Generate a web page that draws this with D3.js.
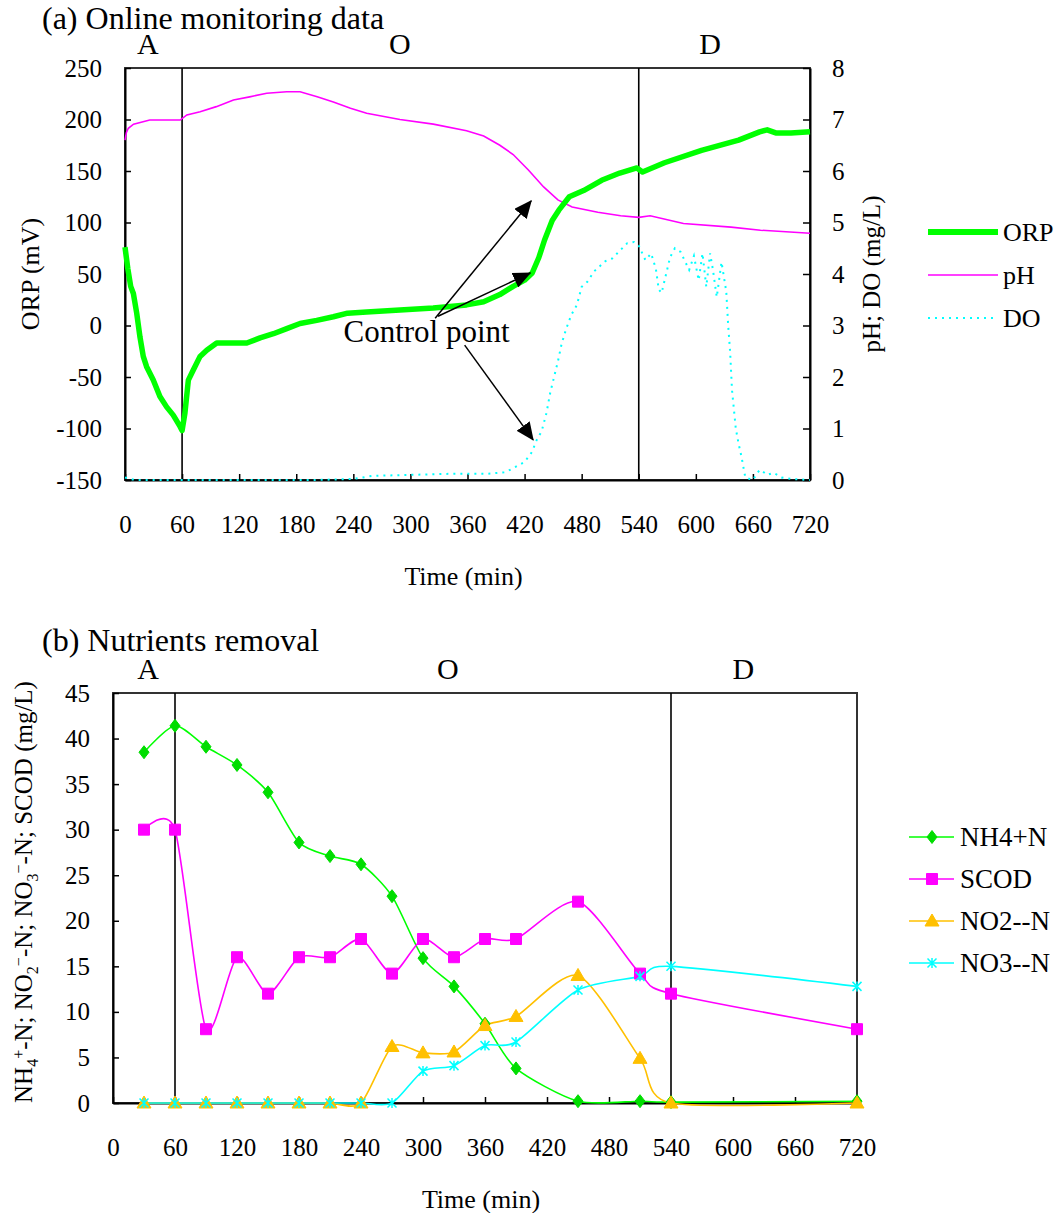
<!DOCTYPE html>
<html>
<head>
<meta charset="utf-8">
<script src="https://cdn.jsdelivr.net/npm/d3@7"></script>
<style>
  body { margin: 0; background: #fff; }
  text { font-family: "Liberation Serif", "Times New Roman", serif; fill: #000; }
</style>
</head>
<body>
<svg id="chart" width="1058" height="1213"></svg>
<script>
// ---- data ----
const timeTicks = [0, 60, 120, 180, 240, 300, 360, 420, 480, 540, 600, 660, 720]
const orpTicks = [-150, -100, -50, 0, 50, 100, 150, 200, 250]
const phDoTicks = [0, 1, 2, 3, 4, 5, 6, 7, 8]
const nutrientTicks = [0, 5, 10, 15, 20, 25, 30, 35, 40, 45]
const phaseBounds = [60, 540]
const phaseNames = ['A', 'O', 'D']

// [time (min), ORP (mV)]
const orp = [[0, 76], [3, 55], [6, 38], [8.8, 31], [12.3, 12], [15.7, -11], [19.2, -30], [22.7, -40],
  [29.7, -53], [36.7, -69], [43.7, -79], [50.7, -87], [57.8, -98], [60, -102], [63, -85],
  [66.6, -53], [71.9, -43], [78.9, -30], [85.9, -24], [96.4, -17], [113.9, -17], [128, -17],
  [142, -12], [156, -8], [170, -3], [184, 2], [201.5, 5], [219, 8.5], [234, 12], [254, 13],
  [289, 15], [324, 17], [359, 20], [377, 23], [394, 30], [408, 38], [420, 44], [428, 51],
  [435, 66], [441, 83], [449, 102], [456, 112], [467, 125], [482, 131], [501, 141], [520, 148],
  [538, 153], [544, 149], [567, 158], [606, 170], [645, 180], [667, 188], [675, 190],
  [684, 187], [700, 187], [720, 188]]

// [time (min), pH]
const ph = [[0, 6.6], [1.5, 6.75], [3.5, 6.83], [9, 6.91], [26, 6.99], [58, 6.99], [65, 7.09],
  [79, 7.15], [96, 7.25], [114, 7.38], [131, 7.44], [149, 7.51], [170, 7.54], [184, 7.54],
  [202, 7.44], [219, 7.34], [237, 7.22], [254, 7.12], [289, 7.0], [324, 6.91], [359, 6.78],
  [377, 6.68], [394, 6.5], [408, 6.32], [424, 6.02], [440, 5.69], [455, 5.44], [470, 5.3],
  [497, 5.2], [521, 5.13], [540, 5.1], [552, 5.13], [587, 4.98], [637, 4.91], [668, 4.85],
  [720, 4.79]]

// [time (min), DO (mg/L)]
const dissolvedO2 = [[0, 0.05], [10, 0], [120, 0], [200, 0], [240, 0.02], [260, 0.08], [300, 0.1],
  [340, 0.12], [380, 0.12], [400, 0.15], [410, 0.25], [420, 0.35], [428, 0.55], [432, 0.75],
  [438, 0.95], [443, 1.3], [447, 1.7], [451, 2.0], [455, 2.3], [459, 2.65], [464, 2.95],
  [469, 3.2], [475, 3.4], [480, 3.75], [486, 3.85], [493, 4.05], [505, 4.25], [512, 4.3],
  [528, 4.6], [535, 4.62], [540, 4.55], [547, 4.27], [553, 4.4], [558, 4.1], [561, 3.7],
  [564, 3.63], [568, 3.94], [573, 4.33], [578, 4.5], [584, 4.43], [588, 4.27], [593, 4.08],
  [598, 4.35], [603, 3.88], [607, 4.4], [611, 3.75], [615, 4.4], [618, 4.08], [622, 3.55],
  [627, 4.23], [632, 3.66], [634, 3.0], [636, 2.5], [638, 1.75], [642, 1.0], [645, 0.7],
  [648, 0.45], [652, 0.05], [660, 0.0], [665, 0.15], [668, 0.2], [675, 0.1], [682, 0.14],
  [690, 0.05], [700, 0.02], [720, 0]]

// nutrient sampling
const sampleTime = [30, 60, 90, 120, 150, 180, 210, 240, 270, 300, 330, 360, 390, 450, 510, 540, 720]
const nh4 = [38.5, 41.4, 39.1, 37.1, 34.1, 28.6, 27.1, 26.2, 22.7, 15.9, 12.8, 8.7, 3.8, 0.2, 0.2, 0.1, 0.2]
const scod = [30.0, 30.0, 8.1, 16.0, 12.0, 16.0, 16.0, 18.0, 14.2, 18.0, 16.0, 18.0, 18.0, 22.1, 14.2, 12.0, 8.1]
const no2 = [0, 0, 0, 0, 0, 0, 0, 0, 6.2, 5.5, 5.6, 8.5, 9.5, 14.0, 4.9, 0, 0]
const no3 = [0, 0, 0, 0, 0, 0, 0, 0, 0, 3.5, 4.1, 6.3, 6.7, 12.4, 13.9, 15.0, 12.8]

// ---- layout ----
const svg = d3.select('#chart')
const FONT = '"Liberation Serif", "Times New Roman", serif'

const xA = d3.scaleLinear([0, 720], [125, 810])
const yOrp = d3.scaleLinear([-150, 250], [480, 68])
const yPh = d3.scaleLinear([0, 8], [480, 68])

const xB = d3.scaleLinear([0, 720], [113, 857])
const yN = d3.scaleLinear([0, 45], [1103, 693])

function styleAxis (g) {
  g.attr('font-family', FONT).attr('font-size', 25)
  g.select('.domain').attr('stroke', '#000').attr('stroke-width', 2)
  g.selectAll('.tick line').attr('stroke', '#000').attr('stroke-width', 1.5)
  g.selectAll('.tick text').attr('fill', '#000')
}

function frame (x, y, topLabels) {
  const [x0, x1] = x.range()
  const [y0, y1] = y.range()
  svg.append('rect')
    .attr('x', x0).attr('y', y1).attr('width', x1 - x0).attr('height', y0 - y1)
    .attr('fill', 'none').attr('stroke', '#333').attr('stroke-width', 2)

  // phase boundaries
  svg.append('g').selectAll('line').data(phaseBounds).join('line')
    .attr('x1', d => x(d)).attr('x2', d => x(d))
    .attr('y1', y1).attr('y2', y0)
    .attr('stroke', '#000').attr('stroke-width', 1.6)

  svg.append('g').selectAll('text').data(phaseNames).join('text')
    .attr('x', (d, i) => x(topLabels[i]))
    .attr('y', y1 - 14)
    .attr('text-anchor', 'middle')
    .attr('font-size', 30)
    .text(d => d)

  svg.append('g')
    .attr('transform', `translate(0,${y0})`)
    .call(d3.axisBottom(x).tickValues(timeTicks).tickSize(-6).tickSizeOuter(0).tickPadding(35).tickFormat(d => String(d)))
    .call(styleAxis)

  svg.append('text')
    .attr('x', (x0 + x1) / 2 - 4)
    .attr('y', y0 + 105)
    .attr('text-anchor', 'middle')
    .attr('font-size', 26)
    .text('Time (min)')
}

// ================= (a) Online monitoring data =================
svg.append('text').attr('x', 42).attr('y', 29).attr('font-size', 32).text('(a) Online monitoring data')

frame(xA, yOrp, [24, 289, 615])

svg.append('g')
  .attr('transform', 'translate(125,0)')
  .call(d3.axisLeft(yOrp).tickValues(orpTicks).tickSize(-6).tickSizeOuter(0).tickPadding(23).tickFormat(d => String(d)))
  .call(styleAxis)

svg.append('g')
  .attr('transform', 'translate(810,0)')
  .call(d3.axisRight(yPh).tickValues(phDoTicks).tickSize(-7).tickSizeOuter(0).tickPadding(22).tickFormat(d => String(d)))
  .call(styleAxis)

svg.append('text')
  .attr('transform', `translate(30,${(68 + 480) / 2}) rotate(-90)`)
  .attr('text-anchor', 'middle').attr('dy', '0.35em')
  .attr('font-size', 26)
  .text('ORP (mV)')

svg.append('text')
  .attr('transform', `translate(871,${(68 + 480) / 2}) rotate(-90)`)
  .attr('text-anchor', 'middle').attr('dy', '0.35em')
  .attr('font-size', 25)
  .text('pH; DO (mg/L)')

const orpLine = d3.line().x(d => xA(d[0])).y(d => yOrp(d[1]))
const phLine = d3.line().x(d => xA(d[0])).y(d => yPh(d[1]))

svg.append('path').datum(dissolvedO2)
  .attr('d', phLine)
  .attr('fill', 'none').attr('stroke', '#00ffff').attr('stroke-width', 2)
  .attr('stroke-dasharray', '2 5')

svg.append('path').datum(ph)
  .attr('d', phLine)
  .attr('fill', 'none').attr('stroke', '#ff00ff').attr('stroke-width', 1.6)

svg.append('path').datum(orp)
  .attr('d', orpLine)
  .attr('fill', 'none').attr('stroke', '#00ff00').attr('stroke-width', 5.5)
  .attr('stroke-linejoin', 'round')

// control point annotation (time, ORP-axis units)
const ctrlArrows = [
  [[326, 7], [427, 121]],
  [[329, 9], [426, 51]],
  [[357, -19], [429, -111]]
]

svg.append('defs').append('marker')
  .attr('id', 'head')
  .attr('markerUnits', 'userSpaceOnUse')
  .attr('viewBox', '0 0 18 16')
  .attr('refX', 17).attr('refY', 8)
  .attr('markerWidth', 18).attr('markerHeight', 16)
  .attr('orient', 'auto')
  .append('path').attr('d', 'M0,0L18,8L0,16Z').attr('fill', '#000')

svg.append('g').selectAll('line').data(ctrlArrows).join('line')
  .attr('x1', d => xA(d[0][0])).attr('y1', d => yOrp(d[0][1]))
  .attr('x2', d => xA(d[1][0])).attr('y2', d => yOrp(d[1][1]))
  .attr('stroke', '#000').attr('stroke-width', 1.5)
  .attr('marker-end', 'url(#head)')

svg.append('text')
  .attr('x', xA(317)).attr('y', yOrp(-16))
  .attr('text-anchor', 'middle').attr('font-size', 31)
  .text('Control point')

// legend (a)
const legendA = [
  { name: 'ORP', color: '#00ff00', width: 6, dash: null },
  { name: 'pH', color: '#ff00ff', width: 1.6, dash: null },
  { name: 'DO', color: '#00ffff', width: 2, dash: '2 5' }
]
const lgA = svg.append('g').selectAll('g').data(legendA).join('g')
  .attr('transform', (d, i) => `translate(928,${232 + i * 43})`)
lgA.append('line').attr('x1', 0).attr('x2', 70)
  .attr('stroke', d => d.color).attr('stroke-width', d => d.width)
  .attr('stroke-dasharray', d => d.dash)
lgA.append('text').attr('x', 75).attr('dy', '0.35em').attr('font-size', 26).text(d => d.name)

// ================= (b) Nutrients removal =================
svg.append('text').attr('x', 42).attr('y', 651).attr('font-size', 32).text('(b) Nutrients removal')

frame(xB, yN, [34, 324, 610])

svg.append('g')
  .attr('transform', 'translate(113,0)')
  .call(d3.axisLeft(yN).tickValues(nutrientTicks).tickSize(-6).tickSizeOuter(0).tickPadding(23).tickFormat(d => String(d)))
  .call(styleAxis)

// y label with sub/superscripts
const yLabelParts = [
  { t: 'NH' }, { t: '4', s: 6 }, { t: '+', s: -8 }, { t: '-N; NO' }, { t: '2', s: 6 }, { t: '−', s: -8 },
  { t: '-N; NO' }, { t: '3', s: 6 }, { t: '−', s: -8 }, { t: '-N; SCOD (mg/L)' }
]
const yLab = svg.append('text')
  .attr('transform', `translate(32,${(693 + 1103) / 2 - 6}) rotate(-90)`)
  .attr('text-anchor', 'middle').attr('dy', '0.35em')
  .attr('font-size', 25)
let shift = 0
yLabelParts.forEach(p => {
  const target = p.s || 0
  yLab.append('tspan')
    .attr('dy', target - shift)
    .attr('font-size', p.s ? 16 : 25)
    .text(p.t)
  shift = target
})

const nutrientSeries = [
  { name: 'NH4+N', values: nh4, color: '#00ff00', mark: '#00dd00', shape: 'diamond' },
  { name: 'SCOD', values: scod, color: '#ff00ff', mark: '#ff00ff', shape: 'square' },
  { name: 'NO2--N', values: no2, color: '#ffc000', mark: '#ffc000', shape: 'triangle' },
  { name: 'NO3--N', values: no3, color: '#00ffff', mark: '#00ffff', shape: 'star' }
]

const shapes = {
  diamond: 'M0,-6.5L5,0L0,6.5L-5,0Z',
  square: 'M-5.5,-5.5H5.5V5.5H-5.5Z',
  triangle: 'M0,-7L7,5H-7Z',
  star: 'M-4.5,-4.5L4.5,4.5M-4.5,4.5L4.5,-4.5M0,-5V5'
}

function drawMarker (sel, d) {
  sel.append('path')
    .attr('d', shapes[d.shape])
    .attr('fill', d.shape === 'star' ? 'none' : d.mark)
    .attr('stroke', d.shape === 'star' ? d.color : d.mark)
    .attr('stroke-width', d.shape === 'star' ? 1.5 : 1)
}

const nLine = d3.line()
  .x((d, i) => xB(sampleTime[i]))
  .y(d => yN(d))
  .curve(d3.curveCardinal.tension(0.25))

nutrientSeries.forEach(s => {
  svg.append('path').datum(s.values)
    .attr('d', nLine)
    .attr('fill', 'none').attr('stroke', s.color).attr('stroke-width', 1.6)
})

nutrientSeries.forEach(s => {
  svg.append('g').selectAll('g').data(s.values).join('g')
    .attr('transform', (d, i) => `translate(${xB(sampleTime[i])},${yN(d)})`)
    .each(function () { drawMarker(d3.select(this), s) })
})

// legend (b)
const lgB = svg.append('g').selectAll('g').data(nutrientSeries).join('g')
  .attr('transform', (d, i) => `translate(909,${837 + i * 42})`)
lgB.append('line').attr('x1', 0).attr('x2', 45)
  .attr('stroke', d => d.color).attr('stroke-width', 1.6)
lgB.append('g').attr('transform', 'translate(23,0)')
  .each(function (d) { drawMarker(d3.select(this), d) })
lgB.append('text').attr('x', 51).attr('dy', '0.35em').attr('font-size', 27).text(d => d.name)
</script>
</body>
</html>
